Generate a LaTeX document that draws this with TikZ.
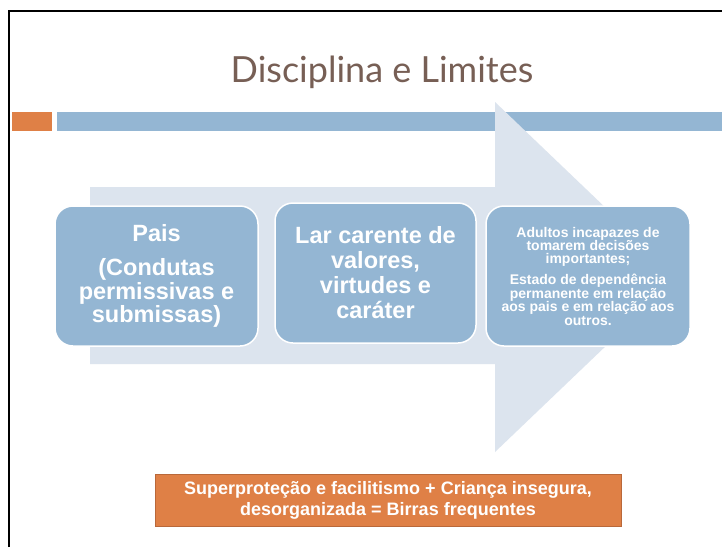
\documentclass[tikz,border=0pt]{standalone}
\usepackage{fontspec}
\setmainfont{Liberation Sans}
\newfontfamily\titlefont{Lato}
\definecolor{boxblue}{HTML}{94B6D3}
\definecolor{arrowgray}{HTML}{DCE4EE}
\definecolor{slideorange}{HTML}{DF8046}
\definecolor{orangeedge}{HTML}{B9683A}
\definecolor{titlebrown}{HTML}{775F55}

\tikzstyle{stage}=[draw=white, line width=1.5pt, fill=boxblue, rounded corners=18pt, text=white, align=center, font=\bfseries, inner sep=0pt]
\tikzstyle{bigtext}=[font=\bfseries\fontsize{23.5}{23.5}\selectfont]
\tikzstyle{result}=[draw=orangeedge, line width=0.8pt, fill=slideorange, text=white, align=center, font=\bfseries\fontsize{18}{21}\selectfont]

\begin{document}
\begin{tikzpicture}[x=1pt, y=-1pt]
      \useasboundingbox (0,0) rectangle (722,547);
      \fill[white] (0,0) rectangle (722,547);
      \draw[line width=2pt] (9,547) -- (9,11) -- (722,11);

      \node[text=titlebrown, font=\titlefont\fontsize{36}{40}\selectfont, anchor=base] (title) at (382,82) {Disciplina e Limites};

      \fill[slideorange] (12,112) rectangle (52,131);
      \fill[boxblue] (57,112) rectangle (722,131);

      \fill[arrowgray] (90,187) -- (495,187) -- (495,102) -- (678,277)
            -- (495,452) -- (495,364) -- (90,364) -- cycle;

      \node[stage, bigtext, minimum width=203pt, minimum height=140pt] (pais) at (156.5,276)
            {Pais\\[10.5pt](Condutas\\permissivas e\\submissas)};
      \node[stage, font=\bfseries\fontsize{23.5}{25}\selectfont, minimum width=201pt, minimum height=140pt] (lar) at (375.5,273)
            {Lar carente de\\valores,\\virtudes e\\caráter};
      \node[stage, font=\bfseries\fontsize{14}{13.4}\selectfont, minimum width=204pt, minimum height=140pt] (adultos) at (588,276)
            {Adultos incapazes de\\tomarem decisões\\importantes;\\[7.6pt]Estado de dependência\\permanente em relação\\aos pais e em relação aos\\outros.};

      \node[result, minimum width=466pt, minimum height=52pt, inner sep=0pt] (birras) at (388,500)
            {Superproteção e facilitismo + Criança insegura,\\desorganizada = Birras frequentes};
\end{tikzpicture}
\end{document}
